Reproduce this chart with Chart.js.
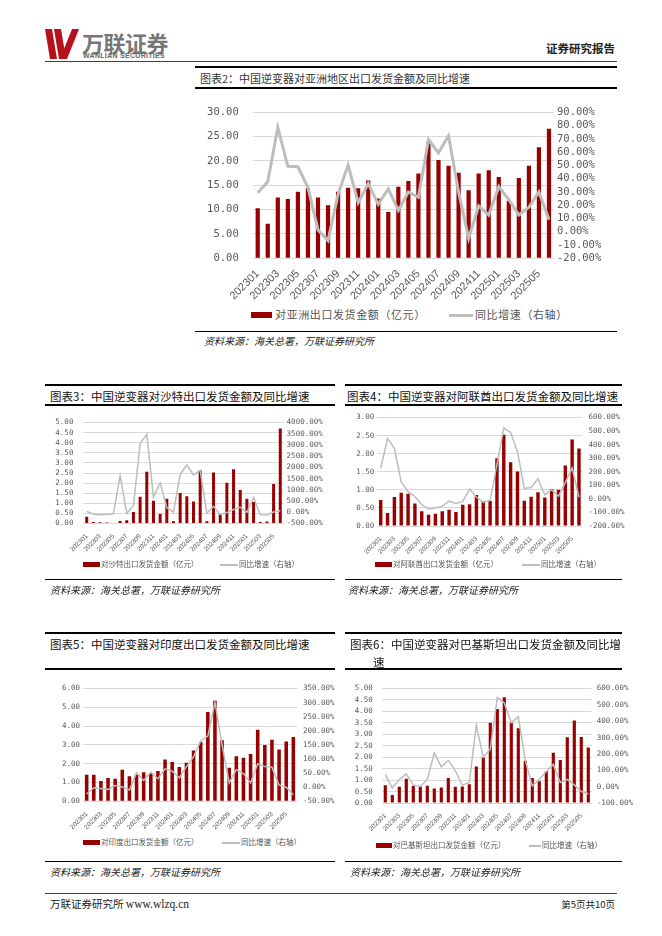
<!DOCTYPE html>
<html>
<head>
<meta charset="utf-8">
<script src="https://cdn.jsdelivr.net/npm/chart.js@4.4.1/dist/chart.umd.min.js"></script>
<style>
  body { margin: 0; background: #fff; width: 662px; height: 936px; position: relative; overflow: hidden;
         font-family: "Noto Sans CJK SC", sans-serif; color: #222; }
  .a { position: absolute; }
  .hl { position: absolute; background: #000; }
  .title { position: absolute; font-size: 11.5px; line-height: 18px; white-space: nowrap; color: #111; }
  .src { position: absolute; font-size: 10px; font-style: italic; color: #222; white-space: nowrap; }
  .leg { position: absolute; white-space: nowrap; color: #555; }
  .box { position: absolute; background: #990000; }
  .gl { position: absolute; background: #bdbdbd; }
  canvas { position: absolute; }
</style>
</head>
<body>

<!-- header -->
<svg class="a" style="left:45px;top:29px" width="34" height="31">
  <polygon points="0,0 7,0 12,30 5,30" fill="#b5121b"/>
  <polygon points="9,0 16,0 21,30 14,30" fill="#b5121b"/>
  <polygon points="15,30 22,30 34,0 27,0" fill="#b5121b"/>
</svg>
<div class="a" style="left:82px;top:26px;font-size:22px;font-weight:bold;color:#767676;letter-spacing:-0.5px">万联证券</div>
<div class="a" style="left:83px;top:52px;font-size:7px;font-weight:bold;color:#666;font-family:'Liberation Sans';letter-spacing:0.3px">WANLIAN SECURITIES</div>
<div class="a" style="left:546px;top:40px;font-size:11.5px;font-weight:bold;color:#222">证券研究报告</div>
<div class="hl" style="left:45px;top:61px;width:572px;height:1px;background:#9b1b1b"></div>

<!-- chart 2 -->
<div class="hl" style="left:195px;top:66px;width:422px;height:2px"></div>
<div class="title" style="left:200px;top:69px;font-size:11px;color:#333">图表2：中国逆变器对亚洲地区出口发货金额及同比增速</div>
<div class="hl" style="left:195px;top:87px;width:422px;height:1.5px"></div>
<canvas id="c2" width="415" height="211" style="left:195px;top:92px"></canvas>
<div class="box" style="left:251px;top:312px;width:21px;height:6px"></div>
<div class="leg" style="left:275px;top:306px;font-size:11px;letter-spacing:0.6px">对亚洲出口发货金额（亿元）</div>
<div class="gl" style="left:449px;top:314px;width:24px;height:3px"></div>
<div class="leg" style="left:475px;top:306px;font-size:11px;letter-spacing:0.6px">同比增速（右轴）</div>
<div class="hl" style="left:195px;top:331px;width:422px;height:1px"></div>
<div class="src" style="left:204px;top:333px">资料来源：海关总署，万联证券研究所</div>

<!-- chart 3 -->
<div class="hl" style="left:45px;top:384px;width:290px;height:2px"></div>
<div class="title" style="left:50px;top:387px">图表3：中国逆变器对沙特出口发货金额及同比增速</div>
<div class="hl" style="left:45px;top:404px;width:290px;height:1.5px"></div>
<canvas id="c3" width="290" height="151" style="left:45px;top:408px"></canvas>
<div class="box" style="left:83px;top:562px;width:17px;height:5px"></div>
<div class="leg" style="left:101px;top:558px;font-size:7.5px">对沙特出口发货金额（亿元）</div>
<div class="gl" style="left:220px;top:564px;width:18px;height:1.5px"></div>
<div class="leg" style="left:239px;top:558px;font-size:7.5px">同比增速（右轴）</div>
<div class="hl" style="left:45px;top:579px;width:290px;height:1px"></div>
<div class="src" style="left:50px;top:582px">资料来源：海关总署，万联证券研究所</div>

<!-- chart 4 -->
<div class="hl" style="left:345px;top:384px;width:277px;height:2px"></div>
<div class="title" style="left:347px;top:387px">图表4：中国逆变器对阿联酋出口发货金额及同比增速</div>
<div class="hl" style="left:345px;top:404px;width:277px;height:1.5px"></div>
<canvas id="c4" width="285" height="152" style="left:340px;top:407px"></canvas>
<div class="box" style="left:375px;top:562px;width:17px;height:5px"></div>
<div class="leg" style="left:393px;top:558px;font-size:7.5px">对阿联酋出口发货金额（亿元）</div>
<div class="gl" style="left:522px;top:564px;width:18px;height:1.5px"></div>
<div class="leg" style="left:541px;top:558px;font-size:7.5px">同比增速（右轴）</div>
<div class="hl" style="left:345px;top:579px;width:277px;height:1px"></div>
<div class="src" style="left:348px;top:582px">资料来源：海关总署，万联证券研究所</div>

<!-- chart 5 -->
<div class="hl" style="left:45px;top:632px;width:290px;height:2px"></div>
<div class="title" style="left:50px;top:635px">图表5：中国逆变器对印度出口发货金额及同比增速</div>
<div class="hl" style="left:45px;top:668px;width:290px;height:1.5px"></div>
<canvas id="c5" width="295" height="158" style="left:45px;top:678px"></canvas>
<div class="box" style="left:83px;top:840px;width:17px;height:5px"></div>
<div class="leg" style="left:101px;top:836px;font-size:7.5px">对印度出口发货金额（亿元）</div>
<div class="gl" style="left:222px;top:842px;width:18px;height:1.5px"></div>
<div class="leg" style="left:241px;top:836px;font-size:7.5px">同比增速（右轴）</div>
<div class="hl" style="left:45px;top:861px;width:290px;height:1px"></div>
<div class="src" style="left:50px;top:864px">资料来源：海关总署，万联证券研究所</div>

<!-- chart 6 -->
<div class="hl" style="left:345px;top:632px;width:277px;height:2px"></div>
<div class="title" style="left:350px;top:635px">图表6：中国逆变器对巴基斯坦出口发货金额及同比增</div>
<div class="title" style="left:373px;top:653px">速</div>
<div class="hl" style="left:345px;top:668px;width:277px;height:1.5px"></div>
<canvas id="c6" width="298" height="160" style="left:342px;top:675px"></canvas>
<div class="box" style="left:376px;top:843px;width:16px;height:5px"></div>
<div class="leg" style="left:393px;top:839px;font-size:7.5px">对巴基斯坦出口发货金额（亿元）</div>
<div class="gl" style="left:529px;top:845px;width:12px;height:1.5px"></div>
<div class="leg" style="left:542px;top:839px;font-size:7.5px">同比增速（右轴）</div>
<div class="hl" style="left:345px;top:861px;width:277px;height:1px"></div>
<div class="src" style="left:350px;top:864px">资料来源：海关总署，万联证券研究所</div>

<!-- footer -->
<div class="hl" style="left:45px;top:893px;width:572px;height:1px;background:#9b1b1b"></div>
<div class="a" style="left:50px;top:896px;font-size:10.5px;color:#222">万联证券研究所 <span style="font-family:'Liberation Serif';font-size:11.5px">www.wlzq.cn</span></div>
<div class="a" style="left:548px;top:897px;font-size:9.5px;color:#222;width:67px;text-align:right">第5页共10页</div>

<script>
const months = ['202301','202302','202303','202304','202305','202306','202307','202308','202309','202310',
  '202311','202312','202401','202402','202403','202404','202405','202406','202407','202408',
  '202409','202410','202411','202412','202501','202502','202503','202504','202505','202506'];

// 亚洲
const asiaAmt = [10.3, 7.1, 12.5, 12.2, 13.7, 14.4, 12.5, 10.9, 13.7, 14.5, 14.4, 16.0, 12.3, 9.5, 14.7,
  15.9, 17.4, 23.9, 20.2, 19.0, 17.6, 14.0, 17.4, 18.1, 16.7, 11.8, 16.5, 19.0, 22.8, 26.6];
const asiaYoy = [29.3, 37.7, 78.6, 49.3, 49.0, 33.5, 1.4, -6.7, 28.4, 50.2, 21.9, 36.3, 20.7, 32.3, 16.0,
  30.0, 26.0, 69.5, 59.5, 72.3, 30.0, -4.9, 19.5, 12.6, 34.0, 24.2, 12.6, 18.4, 30.0, 9.0];

// 沙特
const saudiAmt = [0.34, 0.08, 0.06, 0.05, 0.03, 0.12, 0.16, 0.57, 1.32, 2.56, 1.13, 0.47, 1.23, 0.11, 1.51,
  1.35, 1.09, 2.64, 0.11, 2.52, 0.47, 2.02, 2.69, 1.66, 1.23, 1.06, 0.08, 0.10, 1.96, 4.70];
const saudiYoy = [42, -84, -112, -98, -70, 1634, -42, 293, 3059, 3478, 684, 1313, 196, 14, 1690,
  2109, 1662, 1872, -42, 265, -98, -14, 126, 223, 0, 656, -112, -126, 14, 70];

// 阿联酋
const uaeAmt = [0.72, 0.36, 0.80, 0.92, 0.89, 0.62, 0.41, 0.31, 0.34, 0.41, 0.45, 0.39, 0.59, 0.60, 0.86,
  0.69, 0.69, 1.87, 2.52, 1.76, 1.51, 0.70, 0.81, 0.93, 0.79, 1.02, 1.00, 1.67, 2.39, 2.14];
const uaeYoy = [226, 445, 373, 125, 53, 17, -43, -75, -67, -55, -17, -34, -19, 72, 12,
  -24, -12, 252, 522, 490, 349, 77, 84, 149, 29, 67, 19, 120, 228, 12];

// 印度
const indiaAmt = [1.41, 1.41, 1.08, 1.24, 1.20, 1.68, 1.33, 1.43, 1.55, 1.50, 1.61, 2.23, 2.09, 1.82, 2.05,
  2.70, 3.15, 4.75, 5.35, 3.25, 1.78, 2.40, 2.32, 2.52, 3.80, 3.00, 3.28, 2.75, 3.18, 3.42];
const indiaYoy = [-24, -2, -5, -8, 6, 1, -10, 51, 24, 53, 30, 65, 57, 33, 73,
  108, 164, 181, 301, 152, 15, 62, 48, 15, 83, 73, 71, 7, 0, -27];

// 巴基斯坦
const pakAmt = [0.78, 0.35, 0.71, 1.06, 0.74, 0.72, 0.75, 0.63, 0.68, 1.09, 0.71, 0.72, 0.82, 1.59, 1.99,
  3.50, 4.10, 4.62, 3.52, 3.26, 1.85, 1.09, 0.95, 1.39, 2.19, 1.88, 2.87, 3.60, 2.88, 2.42];
const pakYoy = [73, -8, 44, 78, 9, 1, 44, 206, 122, 161, 97, 9, 25, 375, 180,
  229, 545, 512, 391, 428, 161, 5, 44, 93, 136, 25, 44, 11, -30, -43];

const barColor = '#990000';
const lineColor = '#bdbdbd';
const tickColor = '#595959';

// every tick from min to max, so no label gets skipped
function tickValues(min, max, step) {
  const out = [];
  const n = Math.round((max - min) / step);
  for (let i = 0; i <= n; i++) out.push({ value: +(min + i * step).toFixed(4) });
  return out;
}

// one bar + line combo chart, axis widths fixed so the plot lands where the reference has it
function makeChart(id, c) {
  return new Chart(document.getElementById(id).getContext('2d'), {
    type: 'bar',
    data: {
      labels: months,
      datasets: [{
        type: 'line',
        data: c.yoy,
        yAxisID: 'y1',
        borderColor: lineColor,
        borderWidth: c.lineW,
        pointRadius: 0,
        tension: 0,
        order: 0
      }, {
        type: 'bar',
        data: c.amt,
        yAxisID: 'y',
        backgroundColor: barColor,
        categoryPercentage: 1,
        barPercentage: c.barPct,
        order: 1
      }]
    },
    options: {
      responsive: false,
      animation: false,
      layout: { padding: { top: c.padTop, left: 0, right: 0, bottom: 0 } },
      plugins: { legend: { display: false }, tooltip: { enabled: false } },
      scales: {
        x: {
          grid: { display: false },
          border: { display: false },
          ticks: {
            autoSkip: false, minRotation: 45, maxRotation: 45, padding: 1,
            color: tickColor, font: { family: 'Liberation Sans', size: c.xFont },
            callback: (v, i) => (i % 2 === 0 ? months[i] : '')
          },
          afterFit: s => { s.height = c.xH; }
        },
        y: {
          position: 'left', min: 0, max: c.lMax,
          ticks: { autoSkip: false, maxTicksLimit: 50, padding: c.lPad, color: tickColor,
                   font: { family: 'DejaVu Sans Mono', size: c.yFont },
                   callback: v => v.toFixed(2) },
          afterBuildTicks: s => { s.ticks = tickValues(0, c.lMax, c.lStep); },
          grid: { color: '#d9d9d9', drawTicks: false, lineWidth: 1 },
          border: { display: false },
          afterFit: s => { s.width = c.lW; }
        },
        y1: {
          position: 'right', min: c.rMin, max: c.rMax,
          ticks: { autoSkip: false, maxTicksLimit: 50, padding: c.rPad, color: tickColor,
                   font: { family: 'DejaVu Sans Mono', size: c.yFont },
                   callback: v => v.toFixed(2) + '%' },
          afterBuildTicks: s => { s.ticks = tickValues(c.rMin, c.rMax, c.rStep); },
          grid: { display: false, drawTicks: false },
          border: { display: false },
          afterFit: s => { s.width = c.rW; }
        }
      }
    }
  });
}

makeChart('c2', { amt: asiaAmt, yoy: asiaYoy, lMax: 30, lStep: 5, rMin: -20, rMax: 90, rStep: 10,
  lW: 57.7, rW: 56, lPad: 14, rPad: 3, padTop: 8.7, xH: 44.7, xFont: 11, yFont: 10.5, barPct: 0.42, lineW: 3 });

makeChart('c3', { amt: saudiAmt, yoy: saudiYoy, lMax: 5, lStep: 0.5, rMin: -500, rMax: 4000, rStep: 500,
  lW: 38.4, rW: 51.4, lPad: 10, rPad: 3, padTop: 8, xH: 35.5, xFont: 6.5, yFont: 7.5, barPct: 0.45, lineW: 1.5 });

makeChart('c4', { amt: uaeAmt, yoy: uaeYoy, lMax: 3, lStep: 0.5, rMin: -200, rMax: 600, rStep: 100,
  lW: 37.3, rW: 42.6, lPad: 3, rPad: 6, padTop: 8, xH: 33, xFont: 6.5, yFont: 7.5, barPct: 0.5, lineW: 1.5 });

makeChart('c5', { amt: indiaAmt, yoy: indiaYoy, lMax: 6, lStep: 1, rMin: -50, rMax: 350, rStep: 50,
  lW: 38.1, rW: 43.1, lPad: 3, rPad: 6, padTop: 8.7, xH: 34.7, xFont: 6.5, yFont: 7.5, barPct: 0.5, lineW: 1.5 });

makeChart('c6', { amt: pakAmt, yoy: pakYoy, lMax: 5, lStep: 0.5, rMin: -100, rMax: 600, rStep: 100,
  lW: 39.8, rW: 48.2, lPad: 9, rPad: 5, padTop: 8.3, xH: 32, xFont: 6.5, yFont: 7.5, barPct: 0.45, lineW: 1.5 });
</script>
</body>
</html>
